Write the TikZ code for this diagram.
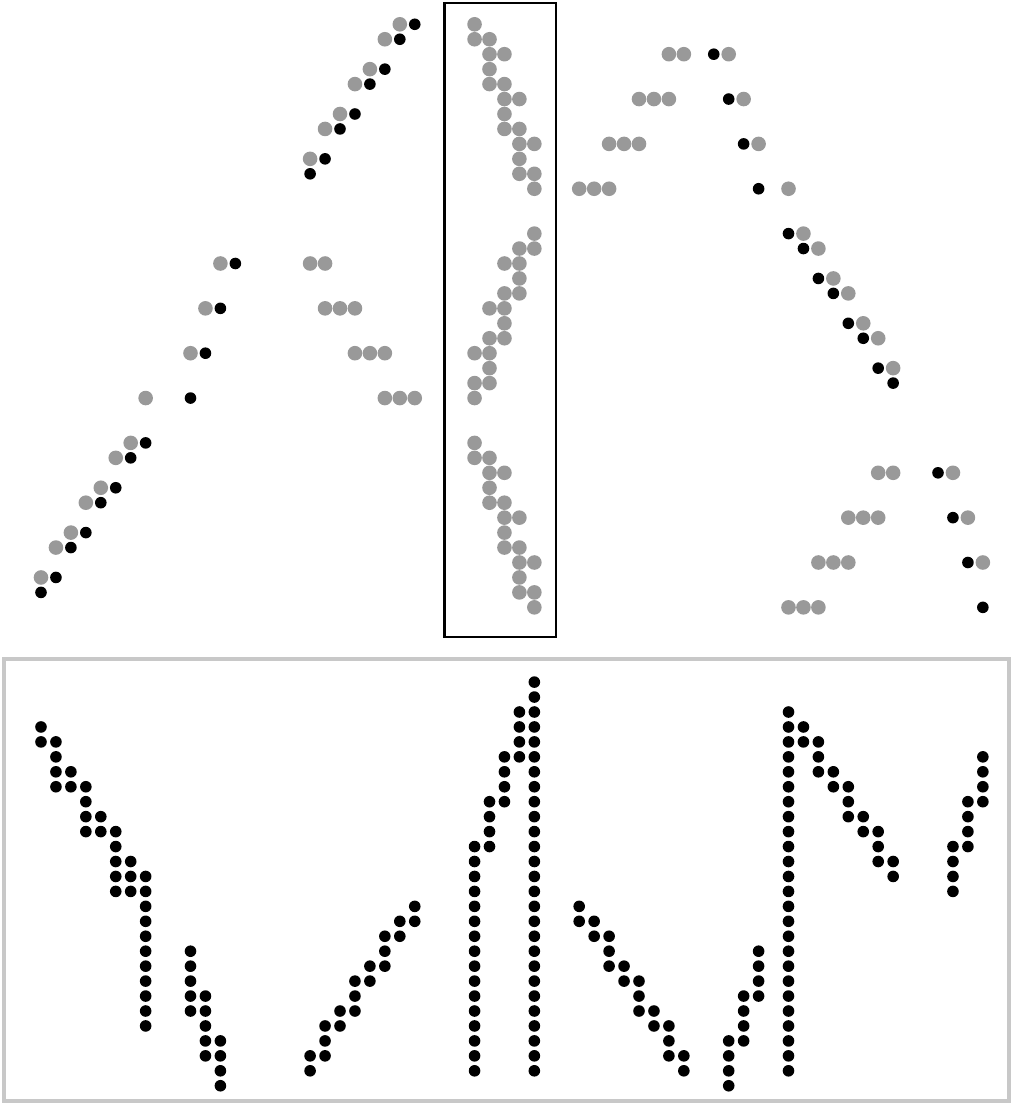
\documentclass[tikz,border=0pt]{standalone}
\definecolor{dotgray}{RGB}{153,153,153}
\definecolor{framegray}{RGB}{200,200,200}
\newcommand\gdt[2]{\fill[gdotstyle] ({41+14.95*(#1)},{24.3+14.95*(#2)}) circle (7.3pt);}
\newcommand\bdt[2]{\fill[bdotstyle] ({41+14.95*(#1)},{24.3+14.95*(#2)}) circle (5.8pt);}
\begin{document}
\begin{tikzpicture}[x=1pt,y=-1pt,
  gdotstyle/.style={fill=dotgray},
  bdotstyle/.style={fill=black},
  boxframe/.style={draw=black,line width=2.2pt},
  grayframe/.style={draw=framegray,line width=4pt}]
\useasboundingbox (0,0) rectangle (1013,1105);
\fill[white] (0,0) rectangle (1013,1105);
% frames
\draw[grayframe] (3.8,658.5) rectangle (1009,1101);
\draw[boxframe] (444.5,2.8) rectangle (556.3,636.7);
% top left gray
\foreach \c/\r in {24/0,23/1,22/3,21/4,20/6,19/7,18/9,12/16,18/16,19/16,11/19,19/19,20/19,21/19,10/22,21/22,22/22,23/22,7/25,23/25,24/25,25/25,6/28,5/29,4/31,3/32,2/34,1/35,0/37}
  {\gdt{\c}{\r}}
% top left black
\foreach \c/\r in {25/0,24/1,23/3,22/4,21/6,20/7,19/9,18/10,13/16,12/19,11/22,10/25,7/28,6/29,5/31,4/32,3/34,2/35,1/37,0/38}
  {\bdt{\c}{\r}}
% top right gray
\foreach \c/\r in {42/2,43/2,46/2,40/5,41/5,42/5,47/5,38/8,39/8,40/8,48/8,36/11,37/11,38/11,50/11,51/14,52/15,53/17,54/18,55/20,56/21,57/23,56/30,57/30,61/30,54/33,55/33,56/33,62/33,52/36,53/36,54/36,63/36,50/39,51/39,52/39}
  {\gdt{\c}{\r}}
% top right black
\foreach \c/\r in {45/2,46/5,47/8,48/11,50/14,51/15,52/17,53/18,54/20,55/21,56/23,57/24,60/30,61/33,62/36,63/39}
  {\bdt{\c}{\r}}
% boxed shapes
\foreach \o in {0,28}{
  \foreach \c/\r in {29/0,29/1,30/1,30/2,31/2,30/3,30/4,31/4,31/5,32/5,31/6,31/7,32/7,32/8,33/8,32/9,32/10,33/10,33/11}
    {\gdt{\c}{\r+\o}}
}
\foreach \c/\r in {33/14,32/15,33/15,31/16,32/16,32/17,31/18,32/18,30/19,31/19,31/20,30/21,31/21,29/22,30/22,30/23,29/24,30/24,29/25}
  {\gdt{\c}{\r}}
% bottom black columns
\foreach \c/\a/\b in {0/47/48,1/48/51,2/50/51,3/51/54,4/53/54,5/54/58,6/56/58,7/57/67,
  10/62/66,11/65/69,12/68/71,
  18/69/70,19/67/69,20/66/67,21/64/66,22/63/64,23/61/63,24/60/61,25/59/60,
  29/55/70,30/52/55,31/49/52,32/46/49,33/44/70,
  36/59/60,37/60/61,38/61/63,39/63/64,40/64/66,41/66/67,42/67/69,43/69/70,
  46/68/71,47/65/68,48/62/65,
  50/46/70,51/47/48,52/48/50,53/50/51,54/51/53,55/53/54,56/54/56,57/56/57,
  61/55/58,62/52/55,63/49/52}
  {\foreach \r in {\a,...,\b}{\bdt{\c}{\r}}}
\end{tikzpicture}
\end{document}
